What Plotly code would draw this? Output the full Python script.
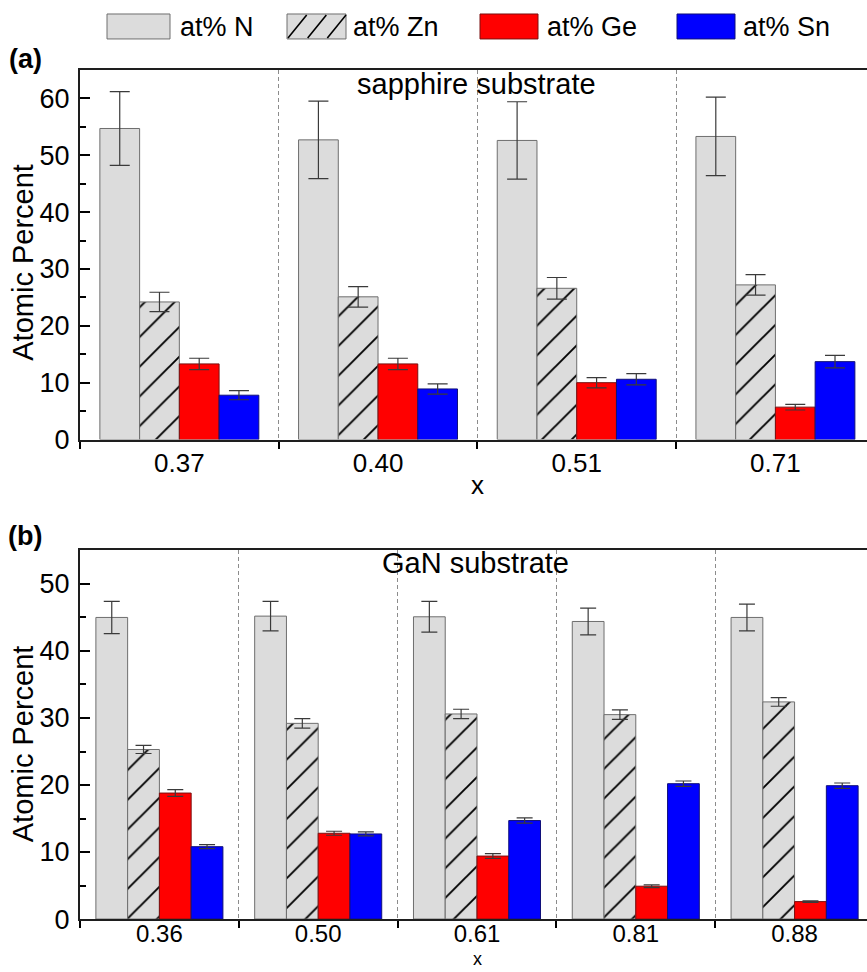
import plotly.graph_objects as go

# ---------------- data ----------------
cats_a = ["0.37", "0.40", "0.51", "0.71"]
n_a = [54.7, 52.7, 52.6, 53.3]
n_a_err = [6.5, 6.8, 6.8, 6.9]
zn_a = [24.2, 25.1, 26.6, 27.2]
zn_a_err = [1.7, 1.8, 1.9, 1.8]
ge_a = [13.3, 13.3, 10.0, 5.7]
ge_a_err = [1.0, 1.0, 0.9, 0.5]
sn_a = [7.8, 8.9, 10.6, 13.7]
sn_a_err = [0.8, 0.9, 1.0, 1.1]

cats_b = ["0.36", "0.50", "0.61", "0.81", "0.88"]
n_b = [45.0, 45.2, 45.1, 44.4, 45.0]
n_b_err = [2.4, 2.2, 2.3, 2.0, 2.0]
zn_b = [25.3, 29.2, 30.6, 30.5, 32.4]
zn_b_err = [0.6, 0.7, 0.7, 0.7, 0.65]
ge_b = [18.8, 12.8, 9.4, 4.9, 2.6]
ge_b_err = [0.5, 0.3, 0.35, 0.2, 0.1]
sn_b = [10.8, 12.7, 14.7, 20.2, 19.9]
sn_b_err = [0.3, 0.3, 0.4, 0.4, 0.4]

series_names = ["at% N", "at% Zn", "at% Ge", "at% Sn"]

# ---------------- styling ----------------
W = 867
H = 986          # figure height (the capture is scaled to 972 px tall)
REF_H = 972      # layout positions below are given in 972-px picture space
FONT = "Arial, 'Liberation Sans', sans-serif"
GRAY = "#dcdcdc"
EDGE = "#6e6e6e"


def px(x):
    return x / W


def py(y):
    return 1 - y / REF_H


def marker_for(name):
    if name == "at% N":
        return dict(color=GRAY, line=dict(color=EDGE, width=1))
    if name == "at% Zn":
        return dict(color=GRAY, line=dict(color=EDGE, width=1),
                    pattern=dict(shape="/", fgcolor="black", bgcolor=GRAY,
                                 size=21, solidity=0.09, fillmode="replace"))
    if name == "at% Ge":
        return dict(color="#ff0000", line=dict(color="#7a1010", width=1))
    return dict(color="#0000ff", line=dict(color="#10107a", width=1))


fig = go.Figure()

panel_a = [(n_a, n_a_err), (zn_a, zn_a_err), (ge_a, ge_a_err), (sn_a, sn_a_err)]
panel_b = [(n_b, n_b_err), (zn_b, zn_b_err), (ge_b, ge_b_err), (sn_b, sn_b_err)]

for name, (vals, errs) in zip(series_names, panel_a):
    fig.add_trace(go.Bar(
        x=cats_a, y=vals, name=name, xaxis="x", yaxis="y",
        marker=marker_for(name), showlegend=False, offsetgroup=name,
        error_y=dict(type="data", array=errs, color="#3a3a3a",
                     thickness=1.2, width=10),
    ))

for name, (vals, errs) in zip(series_names, panel_b):
    fig.add_trace(go.Bar(
        x=cats_b, y=vals, name=name, xaxis="x2", yaxis="y2",
        marker=marker_for(name), showlegend=False, offsetgroup=name,
        error_y=dict(type="data", array=errs, color="#3a3a3a",
                     thickness=1.2, width=8),
    ))

x_dom = [px(80), 1.0]
ya_dom = [py(440), py(70)]
yb_dom = [py(920), py(551)]

common_x = dict(
    type="category", tickson="boundaries", ticks="outside", ticklen=7,
    tickwidth=1.5, tickcolor="black", showline=True, linewidth=2,
    linecolor="#1e1e1e", mirror=True, showgrid=True, gridcolor="#8c8c8c",
    griddash="4px,3px", gridwidth=1,
    zeroline=False, fixedrange=True,
)
common_y = dict(
    dtick=10, ticks="inside", ticklen=10, tickwidth=1.5, tickcolor="black",
    minor=dict(ticks="inside", ticklen=6, dtick=5, tickwidth=1.5,
               tickcolor="black"),
    showline=True, linewidth=2, linecolor="#1e1e1e", showgrid=False,
    zeroline=False, tickfont=dict(size=27, color="black"),
    ticklabelstandoff=3,
)
right_y = dict(
    dtick=10, ticks="inside", ticklen=5, tickwidth=1.5, tickcolor="black",
    showticklabels=False, showline=False, showgrid=False, zeroline=False,
    side="right",
)

fig.update_layout(
    width=W, height=H,
    margin=dict(l=0, r=0, t=0, b=0),
    paper_bgcolor="white", plot_bgcolor="white",
    font=dict(family=FONT, color="black"),
    barmode="group", bargap=0.2, bargroupgap=0,
    showlegend=False,
    xaxis=dict(domain=x_dom, anchor="y", range=[-0.5, 3.461],
               tickfont=dict(size=26, color="black"), ticklabelstandoff=-1,
               **common_x),
    yaxis=dict(domain=ya_dom, anchor="x", range=[0, 65], **common_y),
    xaxis2=dict(domain=x_dom, anchor="y2", range=[-0.5, 4.456],
                tickfont=dict(size=24, color="black"), ticklabelstandoff=-8,
                **common_x),
    yaxis2=dict(domain=yb_dom, anchor="x2", range=[0, 55], **common_y),
    yaxis3=dict(overlaying="y", anchor="x", range=[0, 65], **right_y),
    yaxis4=dict(overlaying="y2", anchor="x2", range=[0, 55], **right_y),
)

# ---------------- annotations ----------------
ann = []


def text(x, y, s, size, bold=False, angle=0, yanchor="middle"):
    ann.append(dict(
        x=px(x), y=py(y), xref="paper", yref="paper",
        text=("<b>%s</b>" % s) if bold else s,
        showarrow=False, xanchor="center", yanchor=yanchor, textangle=angle,
        font=dict(size=size, family=FONT, color="black"),
    ))


text(25, 59, "(a)", 27, bold=True)
text(25, 537, "(b)", 27, bold=True)
text(476, 84, "sapphire substrate", 29)
text(475, 564, "GaN substrate", 29)
text(477, 485, "x", 26)
text(477, REF_H, "x", 18, yanchor="bottom")
text(23, 263, "Atomic Percent", 29, angle=-90)
text(23, 745, "Atomic Percent", 29, angle=-90)

# ---------------- custom legend ----------------
shapes = []
legend_items = [
    (107, 170, 178, "at% N", GRAY, EDGE, False),
    (287, 346, 351, "at% Zn", GRAY, EDGE, True),
    (480, 538, 545, "at% Ge", "#ff0000", "#7a1010", False),
    (677, 735, 741, "at% Sn", "#0000ff", "#10107a", False),
]
y0, y1 = 14, 39
for x0, x1, tx, label, fill, edge, hatch in legend_items:
    shapes.append(dict(type="rect", xref="paper", yref="paper",
                       x0=px(x0), x1=px(x1), y0=py(y1), y1=py(y0),
                       fillcolor=fill, line=dict(color=edge, width=1)))
    if hatch:
        step = (x1 - x0) / 3.0
        for k in range(3):
            sx = x0 + k * step + 1
            shapes.append(dict(type="line", xref="paper", yref="paper",
                               x0=px(sx), y0=py(y1 - 1),
                               x1=px(sx + step - 1), y1=py(y0 + 1),
                               line=dict(color="black", width=1.6)))
    ann.append(dict(x=px(tx), y=py(27), xref="paper", yref="paper", text=label,
                    showarrow=False, xanchor="left", yanchor="middle",
                    font=dict(size=27, family=FONT, color="black")))

fig.update_layout(annotations=ann, shapes=shapes)

fig.write_html("out.html")
